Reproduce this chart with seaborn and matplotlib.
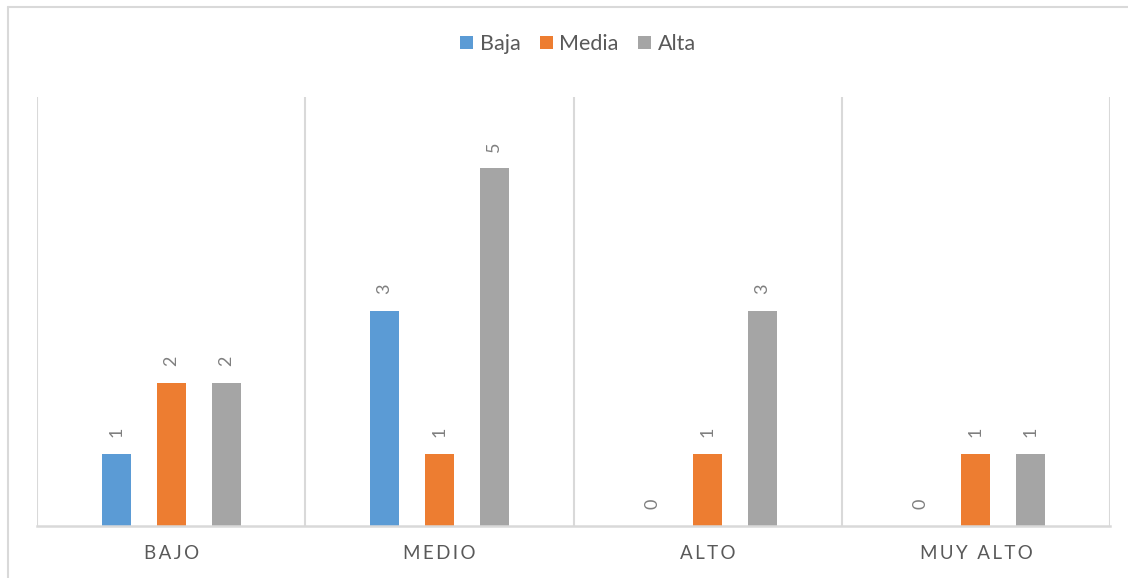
import matplotlib
matplotlib.use("Agg")
import matplotlib.pyplot as plt
from matplotlib.lines import Line2D
import seaborn as sns
import pandas as pd

# Chart data
categories = ["BAJO", "MEDIO", "ALTO", "MUY ALTO"]
series_names = ["Baja", "Media", "Alta"]
baja = [1, 3, 0, 0]
media = [2, 1, 1, 1]
alta = [2, 5, 3, 1]
colors = ["#5B9BD5", "#ED7D31", "#A5A5A5"]

values = {"Baja": baja, "Media": media, "Alta": alta}
df = pd.DataFrame(
    [(cat, name, values[name][i]) for name in series_names for i, cat in enumerate(categories)],
    columns=["nivel", "serie", "valor"],
)

sns.set_theme(style="white")
plt.rcParams["font.family"] = ["Lato", "DejaVu Sans"]

TEXT = "#595959"
GRID = "#D9D9D9"

fig = plt.figure(figsize=(11.28, 5.78), dpi=100)
ax = fig.add_axes([37 / 1128, 1 - 525.5 / 578, (1110 - 37) / 1128, (525.5 - 97) / 578])

sns.barplot(
    data=df, x="nivel", y="valor", hue="serie",
    order=categories, hue_order=series_names,
    palette=colors, saturation=1, width=0.615, gap=0.47, linewidth=0,
    errorbar=None, ax=ax,
)

ax.set_ylim(0, 6)
ax.set_xlim(-0.5, len(categories) - 0.5)
ax.set_xlabel("")
ax.set_ylabel("")
ax.set_yticks([])

# Category separators
for b in [i - 0.5 for i in range(len(categories) + 1)]:
    ax.axvline(b, color=GRID, lw=1.5, zorder=0)

for side in ["top", "left", "right"]:
    ax.spines[side].set_visible(False)
ax.spines["bottom"].set_color(GRID)
ax.spines["bottom"].set_linewidth(1.8)

# Letter-spaced category labels
spaced = ["\u2009".join(c) for c in categories]
ax.set_xticks(range(len(categories)))
ax.set_xticklabels(spaced, fontsize=13.5, color=TEXT)
ax.tick_params(axis="x", length=0, pad=14)

# Rotated value labels above each bar
for container, name in zip(ax.containers, series_names):
    for bar, v in zip(container, values[name]):
        ax.annotate(
            str(v),
            (bar.get_x() + bar.get_width() / 2, v),
            xytext=(0, 22), textcoords="offset pixels",
            ha="center", va="center", rotation=90,
            fontsize=13, color="#7F7F7F",
        )

sns.move_legend(
    ax, "center", bbox_to_anchor=(578 / 1128, 1 - 44 / 578),
    bbox_transform=fig.transFigure, ncol=3, frameon=False, title=None,
    fontsize=15.5, handlelength=0.6, handleheight=0.6,
    handletextpad=0.3, columnspacing=0.9,
)
for t in ax.get_legend().get_texts():
    t.set_color(TEXT)

# Chart-area border
x0 = 8 / 1128
y0 = 1 - 7 / 578
fig.add_artist(Line2D([x0, x0], [0, y0], color=GRID, lw=1.5, transform=fig.transFigure))
fig.add_artist(Line2D([x0, 1], [y0, y0], color=GRID, lw=1.5, transform=fig.transFigure))

fig.savefig("out.png", dpi=100, facecolor="white")
